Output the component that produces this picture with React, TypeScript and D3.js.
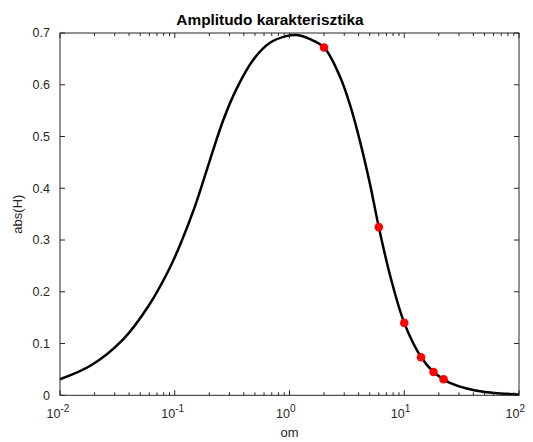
import React from "react";
import * as d3 from "d3";

const curveOm = [0.01, 0.0187, 0.0355, 0.06, 0.09, 0.111, 0.15, 0.203, 0.265, 0.347, 0.482, 0.676, 0.936, 1.16, 1.51, 2.0, 2.75, 3.37, 4.11, 5.03, 6.0, 7.52, 10, 14, 18, 22, 25, 35, 49, 68, 100];
const curveAbs = [0.031, 0.058, 0.108, 0.175, 0.245, 0.29, 0.365, 0.455, 0.532, 0.593, 0.648, 0.681, 0.694, 0.696, 0.688, 0.672, 0.616, 0.561, 0.491, 0.408, 0.325, 0.232, 0.14, 0.074, 0.045, 0.031, 0.024, 0.013, 0.0068, 0.0036, 0.0016];
const dotOm = [2, 6, 10, 14, 18, 22];
const dotAbs = [0.672, 0.325, 0.14, 0.0735, 0.045, 0.031];
const yTicks = [0, 0.1, 0.2, 0.3, 0.4, 0.5, 0.6, 0.7];
const xDecades = [-2, -1, 0, 1, 2];

const W = 533, H = 442;
const L = 60, R = 519, T = 33, B = 395.3;
const FONT = "'Liberation Sans', Arial, Helvetica, sans-serif";
const AX = "#262626";

export default function App() {
  const x = d3.scaleLog().domain([0.01, 100]).range([L, R]);
  const y = d3.scaleLinear().domain([0, 0.7]).range([B, T]);
  const pts: [number, number][] = curveOm.map((o, i) => [o, curveAbs[i]]);
  const line = d3.line<[number, number]>().x(d => x(d[0])).y(d => y(d[1])).curve(d3.curveCatmullRom.alpha(0.5));
  const minor: number[] = [];
  for (let e = -2; e < 2; e++) for (let k = 2; k <= 9; k++) minor.push(k * Math.pow(10, e));
  return (
    <svg width={W} height={H} style={{ position: "absolute", left: 0, top: 0, background: "#fff" }} fontFamily={FONT}>
      <rect x={0} y={0} width={W} height={H} fill="#fff" />
      <path d={line(pts) || ""} fill="none" stroke="#000" strokeWidth={2.5} strokeLinejoin="round" />
      {dotOm.map((o, i) => (
        <circle key={i} cx={x(o)} cy={y(dotAbs[i])} r={4.3} fill="#ff0000" />
      ))}
      <rect x={L} y={T} width={R - L} height={B - T} fill="none" stroke={AX} strokeWidth={1} />
      {yTicks.map(t => (
        <g key={t}>
          <line x1={L} x2={L + 5} y1={y(t)} y2={y(t)} stroke={AX} />
          <line x1={R} x2={R - 5} y1={y(t)} y2={y(t)} stroke={AX} />
          <text x={L - 10} y={y(t) + 4.3} textAnchor="end" fontSize={12.5} fill={AX}>{t === 0 ? "0" : t.toFixed(1)}</text>
        </g>
      ))}
      {minor.map(m => (
        <g key={m}>
          <line x1={x(m)} x2={x(m)} y1={B} y2={B - 3} stroke={AX} />
          <line x1={x(m)} x2={x(m)} y1={T} y2={T + 3} stroke={AX} />
        </g>
      ))}
      {xDecades.map(e => (
        <g key={e}>
          <line x1={x(Math.pow(10, e))} x2={x(Math.pow(10, e))} y1={B} y2={B - 5} stroke={AX} />
          <line x1={x(Math.pow(10, e))} x2={x(Math.pow(10, e))} y1={T} y2={T + 5} stroke={AX} />
          <text x={x(Math.pow(10, e)) - 13.5} y={418.3} fontSize={12.5} fill={AX}>
            10<tspan dy={-6} fontSize={10}>{String(e)}</tspan>
          </text>
        </g>
      ))}
      <text x={270} y={25} textAnchor="middle" fontSize={15.4} fontWeight="bold" fill="#000">Amplitudo karakterisztika</text>
      <text x={289.5} y={437} textAnchor="middle" fontSize={13} fill={AX}>om</text>
      <text transform={`translate(22,${(T + B) / 2}) rotate(-90)`} textAnchor="middle" fontSize={13} fill={AX}>abs(H)</text>
    </svg>
  );
}
